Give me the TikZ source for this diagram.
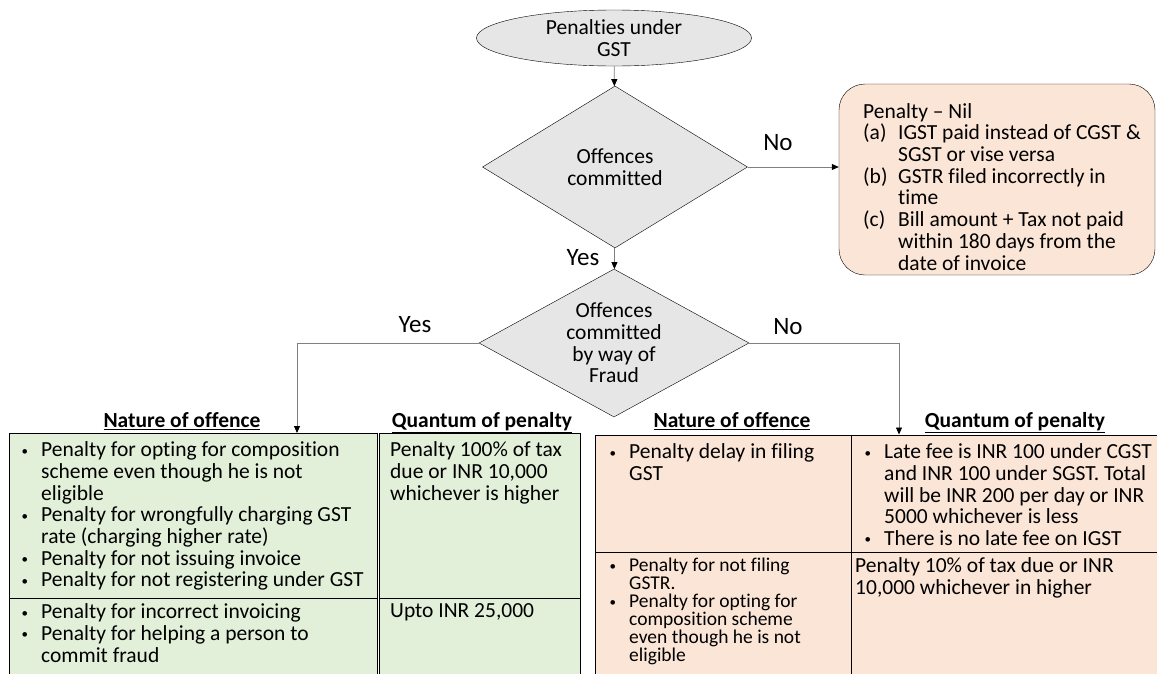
\documentclass[tikz,border=0pt]{standalone}
\usepackage{fontspec}
\setmainfont{Carlito}[Ligatures={TeX,NoCommon}]
\usetikzlibrary{shapes.geometric,arrows.meta}

\definecolor{boxgray}{HTML}{E7E6E6}
\definecolor{cellgreen}{HTML}{E2EFD9}
\definecolor{cellpeach}{HTML}{FBE5D6}

\newcommand{\bul}{\llap{\raisebox{1.5pt}{\fontsize{13}{13}\selectfont\textbullet}\hspace{13pt}}}
\newcommand{\hang}[1]{\makebox[35pt][l]{#1}}

\begin{document}
\begin{tikzpicture}[x=1pt,y=-1pt,
    font=\fontsize{21.5}{21.7}\selectfont,
    startnode/.style={ellipse,draw,fill=boxgray,minimum width=275pt,minimum height=56pt,inner sep=0pt},
    decision/.style={diamond,draw,fill=boxgray,inner sep=0pt,align=center},
    nilbox/.style={rectangle,draw,fill=cellpeach,rounded corners=26pt,minimum width=316pt,minimum height=191pt},
    gcell/.style={rectangle,draw,line width=1.4pt,fill=cellgreen,anchor=north west,inner sep=0pt},
    pcell/.style={rectangle,draw,line width=1.2pt,fill=cellpeach,anchor=north west,inner sep=0pt},
    celltext/.style={anchor=north west,align=left,inner sep=0pt},
    header/.style={anchor=base,inner sep=0pt,font=\fontsize{21.5}{21.7}\selectfont\bfseries},
    answer/.style={font=\fontsize{25}{25}\selectfont,inner sep=0pt},
    arr/.style={draw=black!50,line width=0.8pt,-{Triangle[length=7pt,width=6pt,black]}}]
\useasboundingbox (0,0) rectangle (1157,673);

% Start and decisions
\node[startnode,label={[align=center,inner sep=0pt]center:Penalties under\\GST}] (start) at (614,38) {};
\node[decision,aspect=1.64,minimum width=265pt,minimum height=162pt] (off) at (615,167) {Offences\\committed};
\node[decision,aspect=1.82,minimum width=270pt,minimum height=148pt] (fraud) at (614,343) {Offences\\committed\\by way of\\Fraud};

% Penalty nil
\node[nilbox] (nil) at (997,179.5) {};
\node[celltext] (niltext) at (863,103) {Penalty -- Nil\\
    \hang{(a)}IGST paid instead of CGST \&\\\hang{}SGST or vise versa\\
    \hang{(b)}GSTR filed incorrectly in\\\hang{}time\\
    \hang{(c)}Bill amount + Tax not paid\\\hang{}within 180 days from the\\\hang{}date of invoice};

% Table headers
\foreach \x/\t [count=\i] in {182/Nature of offence, 482/Quantum of penalty, 732/Nature of offence, 1015/Quantum of penalty} {
    \node[header] (h\i) at (\x,427.5) {\underline{\t}};
}

% Fraud table
\node[gcell,minimum width=368.5pt,minimum height=165pt] (g11) at (8.5,433) {};
\node[gcell,minimum width=201pt,minimum height=165pt] (g12) at (379,433) {};
\node[gcell,minimum width=368.5pt,minimum height=85pt] (g21) at (8.5,598) {};
\node[gcell,minimum width=201pt,minimum height=85pt] (g22) at (379,598) {};
\node[celltext] (t11) at (41,441.5) {\bul Penalty for opting for composition\\scheme even though he is not\\eligible\\
    \bul Penalty for wrongfully charging GST\\rate (charging higher rate)\\
    \bul Penalty for not issuing invoice\\
    \bul Penalty for not registering under GST};
\node[celltext] (t12) at (390,441.5) {Penalty 100\% of tax\\due or INR 10,000\\whichever is higher};
\node[celltext] (t21) at (41,603.5) {\bul Penalty for incorrect invoicing\\
    \bul Penalty for helping a person to\\commit fraud};
\node[celltext] (t22) at (390,603.5) {Upto INR 25,000};

% Non fraud table
\node[pcell,minimum width=256pt,minimum height=117pt] (p11) at (594.5,434.5) {};
\node[pcell,minimum width=316pt,minimum height=117pt] (p12) at (850.5,434.5) {};
\node[pcell,minimum width=256pt,minimum height=130pt] (p21) at (594.5,551.5) {};
\node[pcell,minimum width=316pt,minimum height=130pt] (p22) at (850.5,551.5) {};
\node[celltext] (s11) at (629,443.5) {\bul Penalty delay in filing\\GST};
\node[celltext] (s12) at (884,443.5) {\bul Late fee is INR 100 under CGST\\and INR 100 under SGST. Total\\
    will be INR 200 per day or INR\\5000 whichever is less\\
    \bul There is no late fee on IGST};
\node[celltext,font=\fontsize{19.5}{18}\selectfont] (s21) at (629,558) {\bul Penalty for not filing\\GSTR.\\
    \bul Penalty for opting for\\composition scheme\\even though he is not\\eligible};
\node[celltext] (s22) at (855,557.5) {Penalty 10\% of tax due or INR\\10,000 whichever in higher};

% Arrows
\coordinate (ltop) at (297,433);
\coordinate (rtop) at (899,434.5);
\draw[arr] (start) -- (off);
\draw[arr] (off.east) -- (off.east -| nil.west);
\draw[arr] (off) -- (fraud);
\draw[arr] (fraud.west) -| (ltop);
\draw[arr] (fraud.east) -| (rtop);

% Answers
\node[answer] (no1) at (778,143) {No};
\node[answer] (yes1) at (583,258) {Yes};
\node[answer] (yes2) at (415,325) {Yes};
\node[answer] (no2) at (788,327) {No};
\end{tikzpicture}
\end{document}
